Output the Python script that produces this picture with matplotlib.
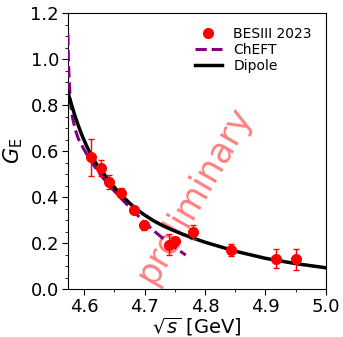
import matplotlib
matplotlib.use('Agg')
import matplotlib.pyplot as plt
from matplotlib.ticker import MultipleLocator


# BESIII 2023 Lambda_c |G_E| points
sqrt_s = [4.6119, 4.6280, 4.6409, 4.6612, 4.6819, 4.6988,
          4.7397, 4.7500, 4.7805, 4.8431, 4.9180, 4.9509]
ge = [0.573, 0.525, 0.467, 0.420, 0.346, 0.278,
      0.194, 0.210, 0.249, 0.170, 0.133, 0.129]
ge_err = [0.080, 0.035, 0.030, 0.020, 0.015, 0.020,
          0.047, 0.015, 0.030, 0.025, 0.040, 0.045]

# ChEFT prediction
cheft_x = [4.5729, 4.5735, 4.5745, 4.5760, 4.5780, 4.5810, 4.5850, 4.5900,
           4.6000, 4.6100, 4.6200, 4.6300, 4.6450, 4.6600, 4.6800, 4.7000,
           4.7200, 4.7400, 4.7680]
cheft_y = [1.110, 1.020, 0.940, 0.860, 0.790, 0.740, 0.695, 0.655,
           0.605, 0.560, 0.522, 0.487, 0.440, 0.397, 0.343, 0.290,
           0.243, 0.200, 0.148]

# dipole fit
dipole_x = [4.5729, 4.576, 4.580, 4.585, 4.590, 4.596, 4.603, 4.611, 4.620,
            4.630, 4.645, 4.660, 4.680, 4.690, 4.700, 4.715, 4.730, 4.745,
            4.760, 4.780, 4.800, 4.850, 4.900, 4.950, 5.000]
dipole_y = [0.857, 0.828, 0.792, 0.750, 0.712, 0.670, 0.628, 0.583, 0.545,
            0.510, 0.458, 0.412, 0.362, 0.341, 0.322, 0.297, 0.276, 0.258,
            0.242, 0.222, 0.204, 0.165, 0.134, 0.111, 0.093]


def main():
  fig = plt.figure(figsize=(3.43, 3.37), dpi=100)
  ax = fig.add_axes([0.198, 0.142, 0.752, 0.819])

  ax.errorbar(sqrt_s, ge, yerr=ge_err, fmt='none', ecolor='red',
              elinewidth=1.0, capsize=2, capthick=1.0, zorder=4)
  data, = ax.plot(sqrt_s, ge, 'o', color='red', ms=7, label='BESIII 2023',
                  zorder=5)
  cheft, = ax.plot(cheft_x, cheft_y, '--', color='purple', lw=2.2,
                   label='ChEFT', zorder=3)
  dipole, = ax.plot(dipole_x, dipole_y, '-', color='black', lw=2.5,
                    label='Dipole', zorder=3)

  # watermark
  ax.text(4.782, 0.41, 'preliminary', color='red', alpha=0.5, fontsize=25,
          rotation=60, ha='center', va='center', rotation_mode='anchor',
          zorder=2)

  ax.set_xlim(4.5729, 5.0)
  ax.set_ylim(0.0, 1.2)
  ax.xaxis.set_major_locator(MultipleLocator(0.1))
  ax.xaxis.set_minor_locator(MultipleLocator(0.05))
  ax.yaxis.set_major_locator(MultipleLocator(0.2))
  ax.yaxis.set_minor_locator(MultipleLocator(0.05))
  ax.tick_params(which='major', labelsize=13, length=4, pad=2.5)
  ax.tick_params(which='minor', length=2.5)

  ax.set_xlabel(r'$\sqrt{s}$ [GeV]', fontsize=14, labelpad=0)
  ax.set_ylabel(r'$G_{\mathrm{E}}$', fontsize=15, labelpad=4)

  ax.legend(handles=[data, cheft, dipole], loc='upper right', frameon=False,
            fontsize=10, borderaxespad=0.6, labelspacing=0.15,
            handletextpad=0.8)

  fig.savefig('out.png', dpi=100)


if __name__ == '__main__':
  main()
